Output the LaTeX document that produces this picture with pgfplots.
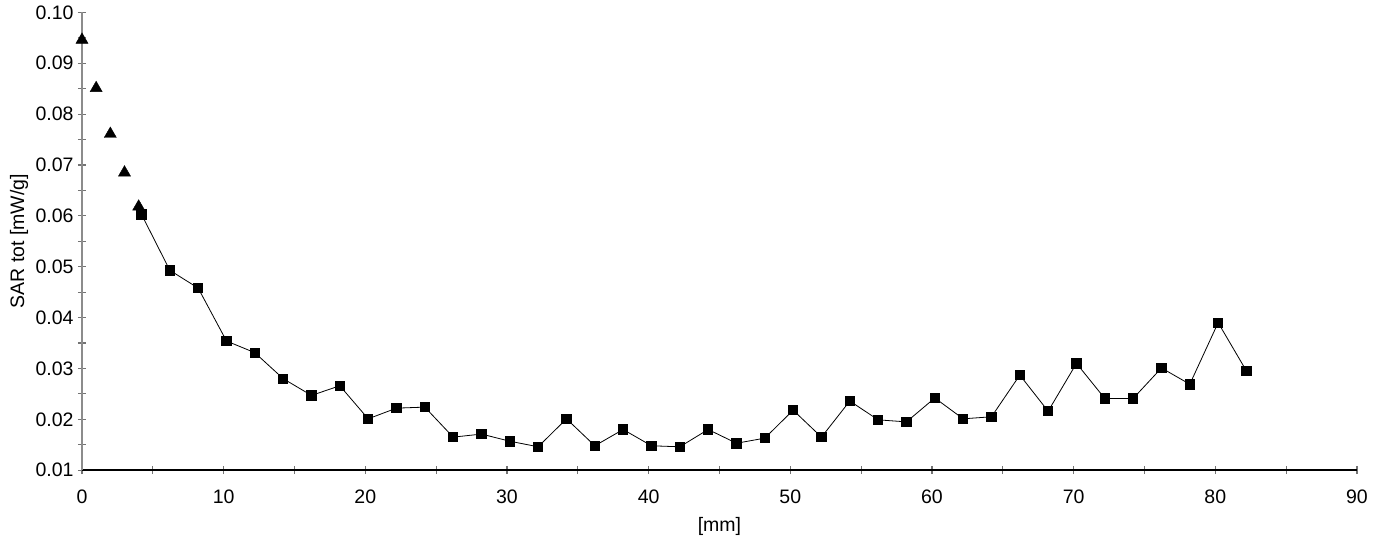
\documentclass[border=0pt]{standalone}
\usepackage{fontspec}
\setmainfont{Liberation Sans}
\usepackage{pgfplots}
\pgfplotsset{compat=1.18}
\begin{document}
\begin{tikzpicture}[x=1pt,y=1pt]
\useasboundingbox (-82,-69.8) rectangle (1303,470.2);
\begin{axis}[
  at={(0,0)}, anchor=south west,
  scale only axis, width=1275pt, height=457.8pt,
  xmin=0, xmax=90, ymin=0.01, ymax=0.10,
  clip=false,
  axis x line*=bottom, axis y line*=left,
  axis line style={-},
  x axis line style={black, line width=1.4pt},
  y axis line style={gray!90, line width=1.8pt},
  tick align=center,
  major tick length=8pt, minor tick length=8pt,
  every tick/.style={gray!90!black, line width=1.2pt},
  xtick={0,10,20,30,40,50,60,70,80,90},
  minor xtick={5,15,25,35,45,55,65,75,85},
  ytick={0.01,0.02,0.03,0.04,0.05,0.06,0.07,0.08,0.09,0.10},
  yticklabels={0.01,0.02,0.03,0.04,0.05,0.06,0.07,0.08,0.09,0.10},
  minor ytick={0.015,0.025,0.035,0.045,0.055,0.065,0.075,0.085,0.095},
  xticklabels={0,10,20,30,40,50,60,70,80,90},
  tick label style={font=\fontsize{19.5}{22}\selectfont, black},
  xticklabel style={yshift=-12pt},
  yticklabel style={xshift=-1pt},
  xlabel={[mm]}, ylabel={SAR tot [mW/g]},
  label style={font=\fontsize{19.5}{22}\selectfont},
  xlabel style={at={(axis description cs:0.5,0)}, anchor=center, yshift=-56pt},
  ylabel style={at={(axis description cs:0,0.5)}, anchor=center, yshift=63pt},
]
\addplot[only marks, mark=triangle*, mark size=7pt, black] coordinates {
(0,0.0946) (1,0.0851) (2,0.0761) (3,0.0685) (4,0.0618)
};
\addplot[black, line width=0.8pt, mark=square*, mark size=4.7pt, mark options={solid}] coordinates {
(4.2,0.0603) (6.2,0.0493) (8.2,0.0458) (10.2,0.0354) (12.2,0.0331)
(14.2,0.0280) (16.2,0.0247) (18.2,0.0266) (20.2,0.0201) (22.2,0.0222)
(24.2,0.0224) (26.2,0.0165) (28.2,0.0171) (30.2,0.0157) (32.2,0.0146)
(34.2,0.0201) (36.2,0.0148) (38.2,0.0180) (40.2,0.0148) (42.2,0.0146)
(44.2,0.0180) (46.2,0.0153) (48.2,0.0163) (50.2,0.0218) (52.2,0.0165)
(54.2,0.0236) (56.2,0.0199) (58.2,0.0195) (60.2,0.0242) (62.2,0.0201)
(64.2,0.0205) (66.2,0.0287) (68.2,0.0216) (70.2,0.0310) (72.2,0.0241)
(74.2,0.0241) (76.2,0.0301) (78.2,0.0269) (80.2,0.0390) (82.2,0.0295)
};
\end{axis}
\end{tikzpicture}
\end{document}
